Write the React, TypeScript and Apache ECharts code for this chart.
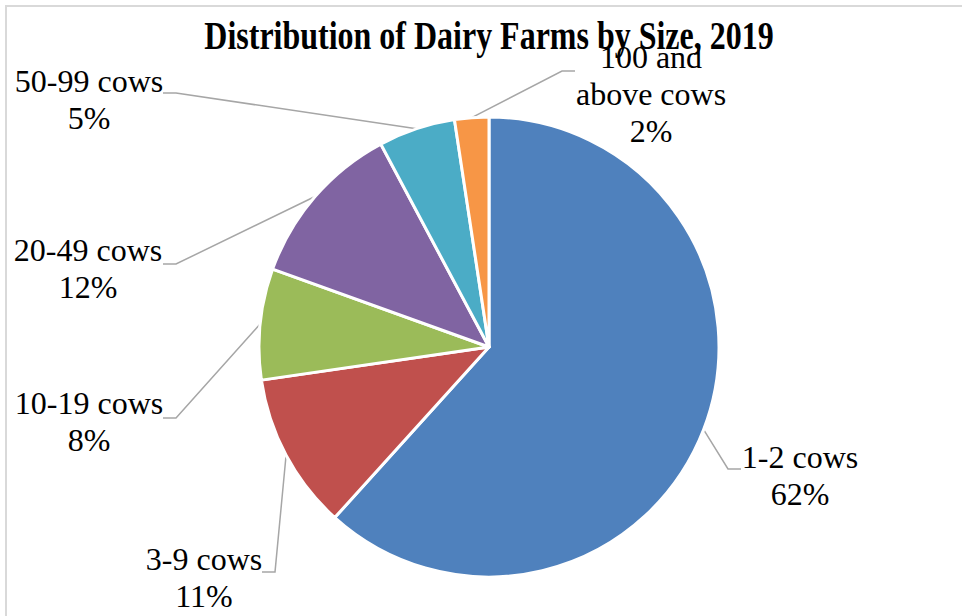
import React, { useEffect, useRef } from "react";
import * as echarts from "echarts";

const titleText = "Distribution of Dairy Farms by Size, 2019";
const categories = ["1-2 cows", "3-9 cows", "10-19 cows", "20-49 cows", "50-99 cows", "100 and above cows"];
const shares = [61.7, 11.0, 7.8, 11.7, 5.4, 2.4];
const colors = ["#4F81BD", "#C0504D", "#9BBB59", "#8064A2", "#4BACC6", "#F79646"];

// label block centres (layout only)
const labelPos: [number, number][] = [
  [800, 475],
  [204, 577],
  [89, 421],
  [88, 268],
  [89, 99],
  [651, 94],
];
// y of the horizontal leader segment, x of its label-side end, and which side
const leaderEnds: [number, number, number][] = [
  [469, 741, 1],
  [572, 262, -1],
  [418, 163, -1],
  [264, 163, -1],
  [93, 163, -1],
  [71, 575, 1],
];

const FONT = "'Liberation Serif', 'Times New Roman', serif";

function wrapName(n: string): string {
  if (n.length > 12) {
    const words = n.split(" ");
    return words.slice(0, 2).join(" ") + "\n" + words.slice(2).join(" ");
  }
  return n;
}

export default function App() {
  const ref = useRef<HTMLDivElement>(null);
  useEffect(() => {
    if (!ref.current) return;
    const chart = echarts.init(ref.current, null, { renderer: "svg" });
    chart.setOption({
      animation: false,
      backgroundColor: "#ffffff",
      graphic: [
        {
          type: "rect",
          shape: { x: 6, y: 6, width: 1000, height: 700 },
          style: { fill: "none", stroke: "#d9d9d9", lineWidth: 2 },
          z: 0,
        },
        {
          type: "text",
          x: 489,
          y: 36,
          scaleX: 0.82,
          style: {
            text: titleText,
            fontFamily: FONT,
            fontWeight: "bold",
            fontSize: 39,
            fill: "#000",
            align: "center",
            verticalAlign: "middle",
          },
          z: 10,
        },
      ],
      series: [
        {
          type: "pie",
          center: [489, 347],
          radius: 230,
          startAngle: 90,
          clockwise: true,
          itemStyle: { borderColor: "#ffffff", borderWidth: 3 },
          label: {
            show: true,
            position: "outside",
            fontFamily: FONT,
            fontSize: 32,
            lineHeight: 37,
            color: "#000",
            align: "center",
            formatter: (p: any) => wrapName(p.name) + "\n" + Math.round(p.percent) + "%",
          },
          labelLine: {
            show: true,
            lineStyle: { color: "#a6a6a6", width: 1.5 },
          },
          labelLayout: (params: any) => {
            const i = params.dataIndex;
            const [lx, ly] = labelPos[i];
            const [hy, hx, side] = leaderEnds[i];
            const p0 = params.labelLinePoints ? params.labelLinePoints[0] : [0, 0];
            const p1 = [hx + side * -13, hy];
            const p1b = [hx + (side > 0 ? -13 : 13), hy];
            return {
              x: lx,
              y: ly,
              align: "center",
              verticalAlign: "middle",
              labelLinePoints: [p0, p1b, [hx, hy]],
            };
          },
          data: categories.map((c, i) => ({
            name: c,
            value: shares[i],
            itemStyle: { color: colors[i] },
          })),
        },
      ],
    });
    return () => chart.dispose();
  }, []);
  return (
    <div
      ref={ref}
      style={{ position: "fixed", left: 0, top: 0, width: 962, height: 616 }}
    />
  );
}
